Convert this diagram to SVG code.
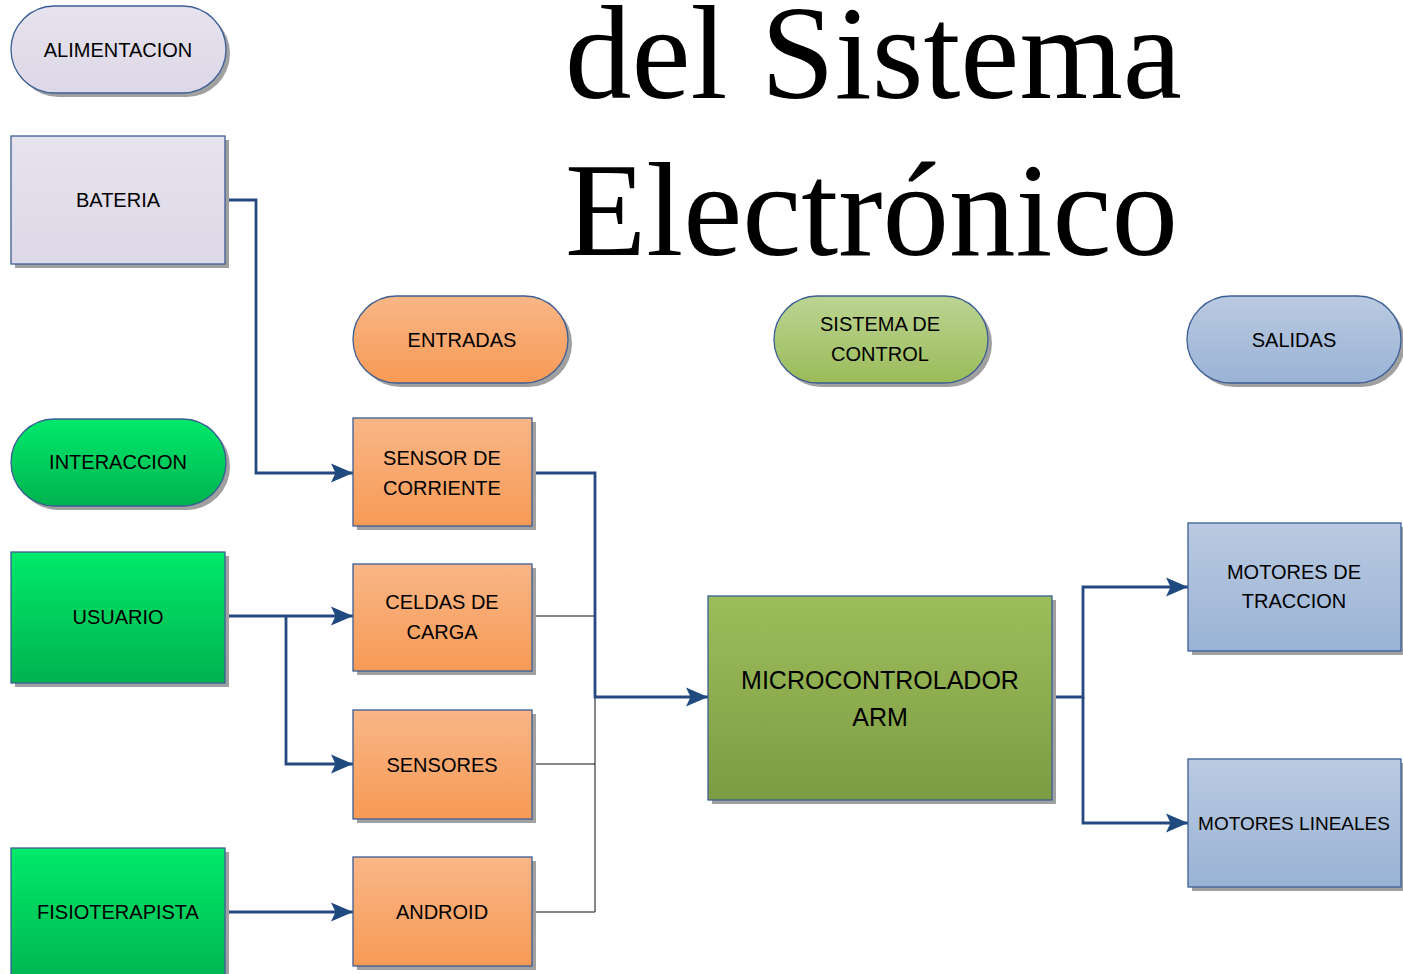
<svg xmlns="http://www.w3.org/2000/svg" width="1403" height="974" viewBox="0 0 1403 974">
<style>
  .lbl{font-family:"Liberation Sans",Arial,sans-serif;font-size:20px;fill:#000;text-anchor:middle}
  .sm{font-size:19px}
  .big{font-family:"Liberation Sans",Arial,sans-serif;font-size:25px;fill:#000;text-anchor:middle}
  .title{font-family:"Liberation Serif","Times New Roman",serif;font-size:133px;fill:#000}
  .sh{fill:#a0a0a0}
  .bd{stroke:#3B5E95;stroke-width:1.3}
  .conn{fill:none;stroke:#25497E;stroke-width:2.8}
  .thin{fill:none;stroke:#111;stroke-width:1}
</style>
<defs>
  <linearGradient id="gLav" x1="0" y1="0" x2="0" y2="1"><stop offset="0" stop-color="#E6E2EE"/><stop offset="1" stop-color="#DDD8E7"/></linearGradient>
  <linearGradient id="gOr" x1="0" y1="0" x2="0" y2="1"><stop offset="0" stop-color="#F9B687"/><stop offset="1" stop-color="#F79A55"/></linearGradient>
  <linearGradient id="gGrL" x1="0" y1="0" x2="0" y2="1"><stop offset="0" stop-color="#BCD493"/><stop offset="1" stop-color="#9BBB59"/></linearGradient>
  <linearGradient id="gBl" x1="0" y1="0" x2="0" y2="1"><stop offset="0" stop-color="#BACAE1"/><stop offset="1" stop-color="#9AB3D5"/></linearGradient>
  <linearGradient id="gGr" x1="0" y1="0" x2="0" y2="1"><stop offset="0" stop-color="#00EA6B"/><stop offset="1" stop-color="#00B24F"/></linearGradient>
  <linearGradient id="gMc" x1="0" y1="0" x2="0" y2="1"><stop offset="0" stop-color="#9DBD5C"/><stop offset="1" stop-color="#7C9C42"/></linearGradient>
  <radialGradient id="gBg" cx="0" cy="1" r="1"><stop offset="0" stop-color="#D8D2A0" stop-opacity="0.9"/><stop offset="1" stop-color="#FFFFFF" stop-opacity="0"/></radialGradient>
  <marker id="arr" viewBox="0 0 22 20" refX="22" refY="10" markerWidth="22" markerHeight="20" markerUnits="userSpaceOnUse" orient="auto">
    <path d="M0,0.5 L22,10 L0,19.5 L4.5,10 Z" fill="#1F4A80"/>
  </marker>
</defs>
<rect width="1403" height="974" fill="#fff"/>
<ellipse cx="0" cy="974" rx="20" ry="40" fill="url(#gBg)"/>

<text class="title" x="565" y="98">del Sistema</text>
<text class="title" x="565" y="255">Electrónico</text>

<g id="connectors">
  <path class="thin" d="M532,616 H595 M532,764 H595 M532,912 H595 V616"/>
  <path class="conn" d="M225,200 H256 V473 H353" marker-end="url(#arr)"/>
  <path class="conn" d="M225,616 H353" marker-end="url(#arr)"/>
  <path class="conn" d="M286,616 V764 H353" marker-end="url(#arr)"/>
  <path class="conn" d="M225,912 H353" marker-end="url(#arr)"/>
  <path class="conn" d="M532,473 H595 V697 H708" marker-end="url(#arr)"/>
  <path class="conn" d="M1052,697 H1083 V587 H1188" marker-end="url(#arr)"/>
  <path class="conn" d="M1083,697 V823 H1188" marker-end="url(#arr)"/>
</g>

<g id="alimentacion">
  <rect class="sh" x="15" y="10" width="215" height="87" rx="43.5"/>
  <rect class="bd" x="11" y="6" width="215" height="87" rx="43.5" fill="url(#gLav)"/>
  <text class="lbl" x="118" y="57">ALIMENTACION</text>
</g>
<g id="bateria">
  <rect class="sh" x="15" y="140" width="214" height="128"/>
  <rect class="bd" x="11" y="136" width="214" height="128" fill="url(#gLav)"/>
  <text class="lbl" x="118" y="207">BATERIA</text>
</g>
<g id="interaccion">
  <rect class="sh" x="15" y="423" width="215" height="87" rx="43.5"/>
  <rect class="bd" x="11" y="419" width="215" height="87" rx="43.5" fill="url(#gGr)"/>
  <text class="lbl" x="118" y="469">INTERACCION</text>
</g>
<g id="usuario">
  <rect class="sh" x="15" y="556" width="214" height="131"/>
  <rect class="bd" x="11" y="552" width="214" height="131" fill="url(#gGr)"/>
  <text class="lbl" x="118" y="624">USUARIO</text>
</g>
<g id="fisioterapista">
  <rect class="sh" x="15" y="852" width="214" height="140"/>
  <rect class="bd" x="11" y="848" width="214" height="140" fill="url(#gGr)"/>
  <text class="lbl" x="118" y="919">FISIOTERAPISTA</text>
</g>

<g id="entradas">
  <rect class="sh" x="357" y="300" width="215" height="87" rx="43.5"/>
  <rect class="bd" x="353" y="296" width="215" height="87" rx="43.5" fill="url(#gOr)"/>
  <text class="lbl" x="462" y="347">ENTRADAS</text>
</g>
<g id="sensor-corriente">
  <rect class="sh" x="357" y="422" width="179" height="108"/>
  <rect class="bd" x="353" y="418" width="179" height="108" fill="url(#gOr)"/>
  <text class="lbl" x="442" y="465">SENSOR DE</text>
  <text class="lbl" x="442" y="495">CORRIENTE</text>
</g>
<g id="celdas-carga">
  <rect class="sh" x="357" y="568" width="179" height="107"/>
  <rect class="bd" x="353" y="564" width="179" height="107" fill="url(#gOr)"/>
  <text class="lbl" x="442" y="609">CELDAS DE</text>
  <text class="lbl" x="442" y="639">CARGA</text>
</g>
<g id="sensores">
  <rect class="sh" x="357" y="714" width="179" height="109"/>
  <rect class="bd" x="353" y="710" width="179" height="109" fill="url(#gOr)"/>
  <text class="lbl" x="442" y="772">SENSORES</text>
</g>
<g id="android">
  <rect class="sh" x="357" y="861" width="179" height="109"/>
  <rect class="bd" x="353" y="857" width="179" height="109" fill="url(#gOr)"/>
  <text class="lbl" x="442" y="919">ANDROID</text>
</g>

<g id="sistema-control">
  <rect class="sh" x="778" y="300" width="214" height="87" rx="43.5"/>
  <rect class="bd" x="774" y="296" width="214" height="87" rx="43.5" fill="url(#gGrL)"/>
  <text class="lbl" x="880" y="331">SISTEMA DE</text>
  <text class="lbl" x="880" y="361">CONTROL</text>
</g>
<g id="microcontrolador">
  <rect class="sh" x="712" y="600" width="344" height="204"/>
  <rect class="bd" x="708" y="596" width="344" height="204" fill="url(#gMc)"/>
  <text class="big" x="880" y="689">MICROCONTROLADOR</text>
  <text class="big" x="880" y="726">ARM</text>
</g>

<g id="salidas">
  <rect class="sh" x="1191" y="300" width="214" height="87" rx="43.5"/>
  <rect class="bd" x="1187" y="296" width="214" height="87" rx="43.5" fill="url(#gBl)"/>
  <text class="lbl" x="1294" y="347">SALIDAS</text>
</g>
<g id="motores-traccion">
  <rect class="sh" x="1192" y="527" width="213" height="128"/>
  <rect class="bd" x="1188" y="523" width="213" height="128" fill="url(#gBl)"/>
  <text class="lbl" x="1294" y="579">MOTORES DE</text>
  <text class="lbl" x="1294" y="608">TRACCION</text>
</g>
<g id="motores-lineales">
  <rect class="sh" x="1192" y="763" width="213" height="128"/>
  <rect class="bd" x="1188" y="759" width="213" height="128" fill="url(#gBl)"/>
  <text class="lbl sm" x="1294" y="830">MOTORES LINEALES</text>
</g>
</svg>
